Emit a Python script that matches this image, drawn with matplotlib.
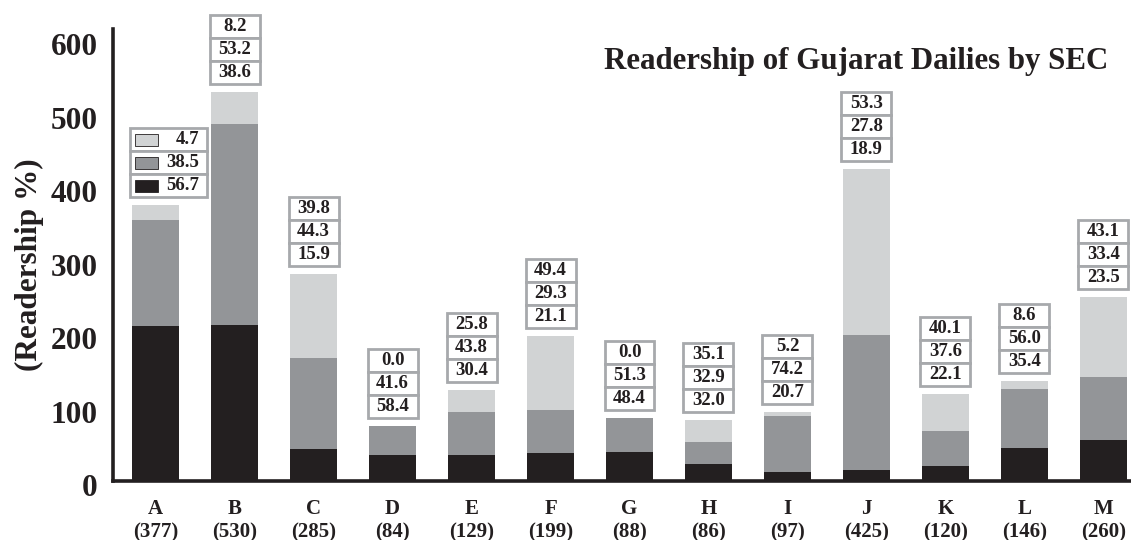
import matplotlib
matplotlib.use("Agg")
import matplotlib.pyplot as plt
from matplotlib.patches import Rectangle
import matplotlib.transforms as mtransforms
import numpy as np

plt.rcParams['font.family'] = ['Liberation Serif', 'DejaVu Serif']
plt.rcParams['font.weight'] = 'bold'

# ---- data ----
categories = ["A", "B", "C", "D", "E", "F", "G", "H", "I", "J", "K", "L", "M"]
sample_sizes = [377, 530, 285, 84, 129, 199, 88, 86, 97, 425, 120, 146, 260]
# segment heights as drawn
dark_vals = [211, 212, 44, 35.5, 35.5, 38.6, 39, 23.6, 12.7, 15, 21, 45, 56]
mid_vals = [144, 274, 123, 40, 58.5, 58, 47, 29.7, 76, 183, 47, 80, 85]
light_vals = [20, 43, 114, 0, 30, 101, 0, 29.6, 5.3, 227, 50, 11, 110]
# label percentages (top = light, middle = mid grey, bottom = dark)
pct_light = [4.7, 8.2, 39.8, 0.0, 25.8, 49.4, 0.0, 35.1, 5.2, 53.3, 40.1, 8.6, 43.1]
pct_mid = [38.5, 53.2, 44.3, 41.6, 43.8, 29.3, 51.3, 32.9, 74.2, 27.8, 37.6, 56.0, 33.4]
pct_dark = [56.7, 38.6, 15.9, 58.4, 30.4, 21.1, 48.4, 32.0, 20.7, 18.9, 22.1, 35.4, 23.5]
yticks = [0, 100, 200, 300, 400, 500, 600]
title = "Readership of Gujarat Dailies by SEC"
ylabel = "(Readership %)"

c_dark = "#231f20"
c_mid = "#939598"
c_light = "#d1d3d4"
c_edge = "#a7a9ac"

fig = plt.figure(figsize=(11.31, 5.40), dpi=100)
ax = fig.add_axes([113/1131, 59/540, 1 - 113/1131, 452/540])

x = np.arange(len(categories))
bw = 0.6
dark = np.array(dark_vals)
mid = np.array(mid_vals)
light = np.array(light_vals)
ax.bar(x, dark, width=bw, color=c_dark, zorder=2)
ax.bar(x, mid, width=bw, bottom=dark, color=c_mid, zorder=2)
ax.bar(x, light, width=bw, bottom=dark + mid, color=c_light, zorder=2)

ax.set_xlim(-0.54, 12.35)
ax.set_ylim(0, 615)

# px -> data conversion for label boxes
ypx = 615 / 452.0
xpx = 1.0 / 79.0
gap = 8 * ypx
row_h = 23 * ypx
box_w = 50 * xpx

tops = dark + mid + light
for i in range(len(categories)):
    vals = [pct_light[i], pct_mid[i], pct_dark[i]]
    base = tops[i] + gap
    if i == 0:
        left = x[i] - bw / 2 - 2 * xpx
        width = 77 * xpx
        cols = [c_light, c_mid, c_dark]
        for r, (v, cc) in enumerate(zip(vals, cols)):
            yb = base + (2 - r) * row_h
            ax.add_patch(Rectangle((left, yb), width, row_h, facecolor="white",
                                   edgecolor=c_edge, lw=2.0, zorder=3, clip_on=False))
            ax.add_patch(Rectangle((left + 5 * xpx, yb + 5 * ypx), 23 * xpx, 12.5 * ypx,
                                   facecolor=cc, edgecolor="#231f20", lw=0.6, zorder=4,
                                   clip_on=False))
            ax.text(left + width - 8 * xpx, yb + row_h / 2, f"{v:.1f}", ha="right",
                    va="center", fontsize=13.5, fontweight="bold", color="#231f20",
                    zorder=5)
    else:
        left = x[i] - box_w / 2
        for r, v in enumerate(vals):
            yb = base + (2 - r) * row_h
            ax.add_patch(Rectangle((left, yb), box_w, row_h, facecolor="white",
                                   edgecolor=c_edge, lw=2.0, zorder=3, clip_on=False))
            ax.text(x[i], yb + row_h / 2, f"{v:.1f}", ha="center", va="center",
                    fontsize=13.5, fontweight="bold", color="#231f20", zorder=5)

# axes styling
for s in ["top", "right"]:
    ax.spines[s].set_visible(False)
ax.spines["left"].set_linewidth(2.6)
ax.spines["bottom"].set_linewidth(2.6)
ax.spines["left"].set_color("#231f20")
ax.spines["bottom"].set_color("#231f20")

ax.set_yticks(yticks)
ax.set_yticklabels([str(t) for t in yticks], fontsize=22.5, fontweight="bold", color="#231f20")
ax.set_xticks(x)
ax.set_xticklabels([f"{c}\n({n})" for c, n in zip(categories, sample_sizes)],
                   fontsize=15, fontweight="bold", color="#231f20", linespacing=1.2)
ax.tick_params(axis="y", length=0, pad=11)
ax.tick_params(axis="x", length=0, pad=13)
# nudge y tick labels slightly downward as in the reference
shift = mtransforms.ScaledTranslation(0, -4 / 100, fig.dpi_scale_trans)
for lab in ax.get_yticklabels():
    lab.set_transform(lab.get_transform() + shift)

fig.text(29 / 1131, 1 - 265 / 540, ylabel, rotation=90, ha="center", va="center",
         fontsize=22.5, fontweight="bold", color="#231f20")
fig.text(1108 / 1131, 1 - 61 / 540, title, ha="right", va="center",
         fontsize=22.2, fontweight="bold", color="#231f20")

fig.savefig("out.png", dpi=100)
